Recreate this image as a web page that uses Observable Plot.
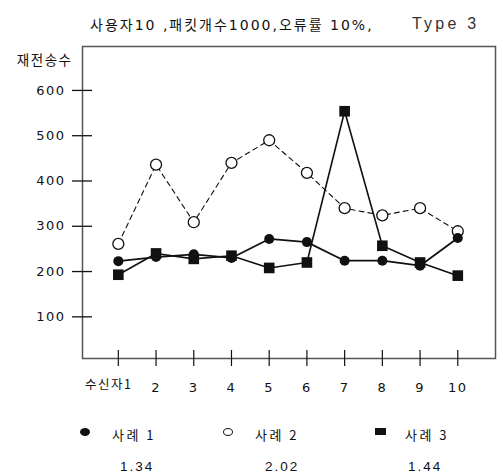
<!DOCTYPE html>
<html><head><meta charset="utf-8">
<script src="https://cdn.jsdelivr.net/npm/d3@7"></script>
<script src="https://cdn.jsdelivr.net/npm/@observablehq/plot@0.6"></script>
<style>
body{margin:0;background:#fff;font-family:"DejaVu Sans","Noto Sans CJK KR",sans-serif;}
#wrap{position:relative;width:503px;height:476px;overflow:hidden;}
#wrap svg{position:absolute;left:0;top:0}
.t{position:absolute;white-space:nowrap;color:#111;line-height:1}
.sym{position:absolute;background:#111}
</style></head><body><div id="wrap"></div>
<script>
const receivers = [1,2,3,4,5,6,7,8,9,10];
const case1 = [223,232,238,230,272,265,224,224,213,274];
const case2 = [261,436,309,440,490,418,340,324,340,289];
const case3 = [193,240,228,235,208,220,554,257,220,191];
const yTicks = [100,200,300,400,500,600];
const xTickLabels = ["수신자1","2","3","4","5","6","7","8","9","10"];
const seriesNames = ["사례 1","사례 2","사례 3"];
const seriesValues = ["1.34","2.02","1.44"];
const titleText = "사용자10 ,패킷개수1000,오류률 10%,";
const typeText = "Type 3";
const yLabelText = "재전송수";

const rows = (vals) => receivers.map((r,i)=>({x:r, y:vals[i]}));
const d1 = rows(case1), d2 = rows(case2), d3 = rows(case3);
const font = '"Noto Sans CJK KR","Noto Sans",sans-serif';
const numFont = '"DejaVu Sans","Noto Sans CJK KR",sans-serif';

const plot = Plot.plot({
  width:503, height:476,
  marginTop:46, marginBottom:118, marginLeft:82, marginRight:8,
  x:{domain:[0.05,11.0], axis:null},
  y:{domain:[8,697], axis:null},
  style:{fontFamily:numFont, fontSize:"13px", letterSpacing:"1.5px", background:"transparent", color:"#111", overflow:"visible"},
  marks:[
    Plot.frame({stroke:"#555", strokeWidth:1.5}),
    Plot.axisY(yTicks, {tickSize:10, tickPadding:7, fontSize:13, label:null, stroke:"#111", strokeWidth:1.3}),
    Plot.axisY(yTicks, {tickSize:10, dx:10, tickFormat:()=>"", label:null, stroke:"#111", strokeWidth:1.3}),
    Plot.axisX(receivers, {tickSize:8, tickPadding:16, label:null, fontSize:13, stroke:"#111", strokeWidth:1.2,
      tickFormat:(d)=> d===1 ? "" : xTickLabels[d-1]}),
    Plot.axisX(receivers, {tickSize:8, dy:-8, tickFormat:()=>"", label:null, stroke:"#111", strokeWidth:1.2}),
    Plot.text([xTickLabels[0]], {x:()=>1, text:d=>d, frameAnchor:"bottom", dy:30, dx:14, textAnchor:"end", fontSize:12.5, fontFamily:font}),
    Plot.text([yLabelText], {frameAnchor:"top-left", dx:-10, dy:9, textAnchor:"end", fontSize:13.5, fontFamily:font}),
    Plot.line(d2, {x:"x", y:"y", stroke:"#111", strokeWidth:1.1, strokeDasharray:"5,4"}),
    Plot.dot(d2, {x:"x", y:"y", r:5.5, fill:"white", stroke:"#111", strokeWidth:1.3}),
    Plot.line(d3, {x:"x", y:"y", stroke:"#111", strokeWidth:1.6}),
    Plot.dot(d3, {x:"x", y:"y", r:6, symbol:"square", fill:"#111"}),
    Plot.line(d1, {x:"x", y:"y", stroke:"#111", strokeWidth:1.8}),
    Plot.dot(d1, {x:"x", y:"y", r:5, fill:"#111"})
  ]
});
const wrap = document.getElementById("wrap");
wrap.appendChild(plot);

function addText(txt, left, top, size, extra){
  const el = document.createElement("div");
  el.className = "t"; el.textContent = txt;
  el.style.left = left+"px"; el.style.top = top+"px"; el.style.fontSize = size+"px";
  if (extra) Object.assign(el.style, extra);
  wrap.appendChild(el); return el;
}
addText(titleText, 90, 18, 14, {letterSpacing:"2px"});
addText(typeText, 412, 16, 16, {fontFamily:'"Liberation Sans",Arial,sans-serif', color:"#333", letterSpacing:"3.2px"});

// legend
const legX = [112, 255, 405];
const numX = [120, 265, 408];
seriesNames.forEach((n,i)=>{
  addText(n, legX[i], 428, 13, {fontFamily:font, letterSpacing:"2.5px"});
  addText(seriesValues[i], numX[i], 460, 13.5, {fontFamily:'"Liberation Sans",Arial,sans-serif', letterSpacing:"2px"});
});
const s1 = document.createElement("div"); s1.className="sym";
Object.assign(s1.style,{left:"80px",top:"428px",width:"10px",height:"8px",borderRadius:"50%"}); wrap.appendChild(s1);
const s2 = document.createElement("div"); s2.className="sym";
Object.assign(s2.style,{left:"223px",top:"428px",width:"8px",height:"6px",borderRadius:"50%",background:"#fff",border:"1.3px solid #111"}); wrap.appendChild(s2);
const s3 = document.createElement("div"); s3.className="sym";
Object.assign(s3.style,{left:"375px",top:"428px",width:"11px",height:"7px"}); wrap.appendChild(s3);
</script>
</body></html>
